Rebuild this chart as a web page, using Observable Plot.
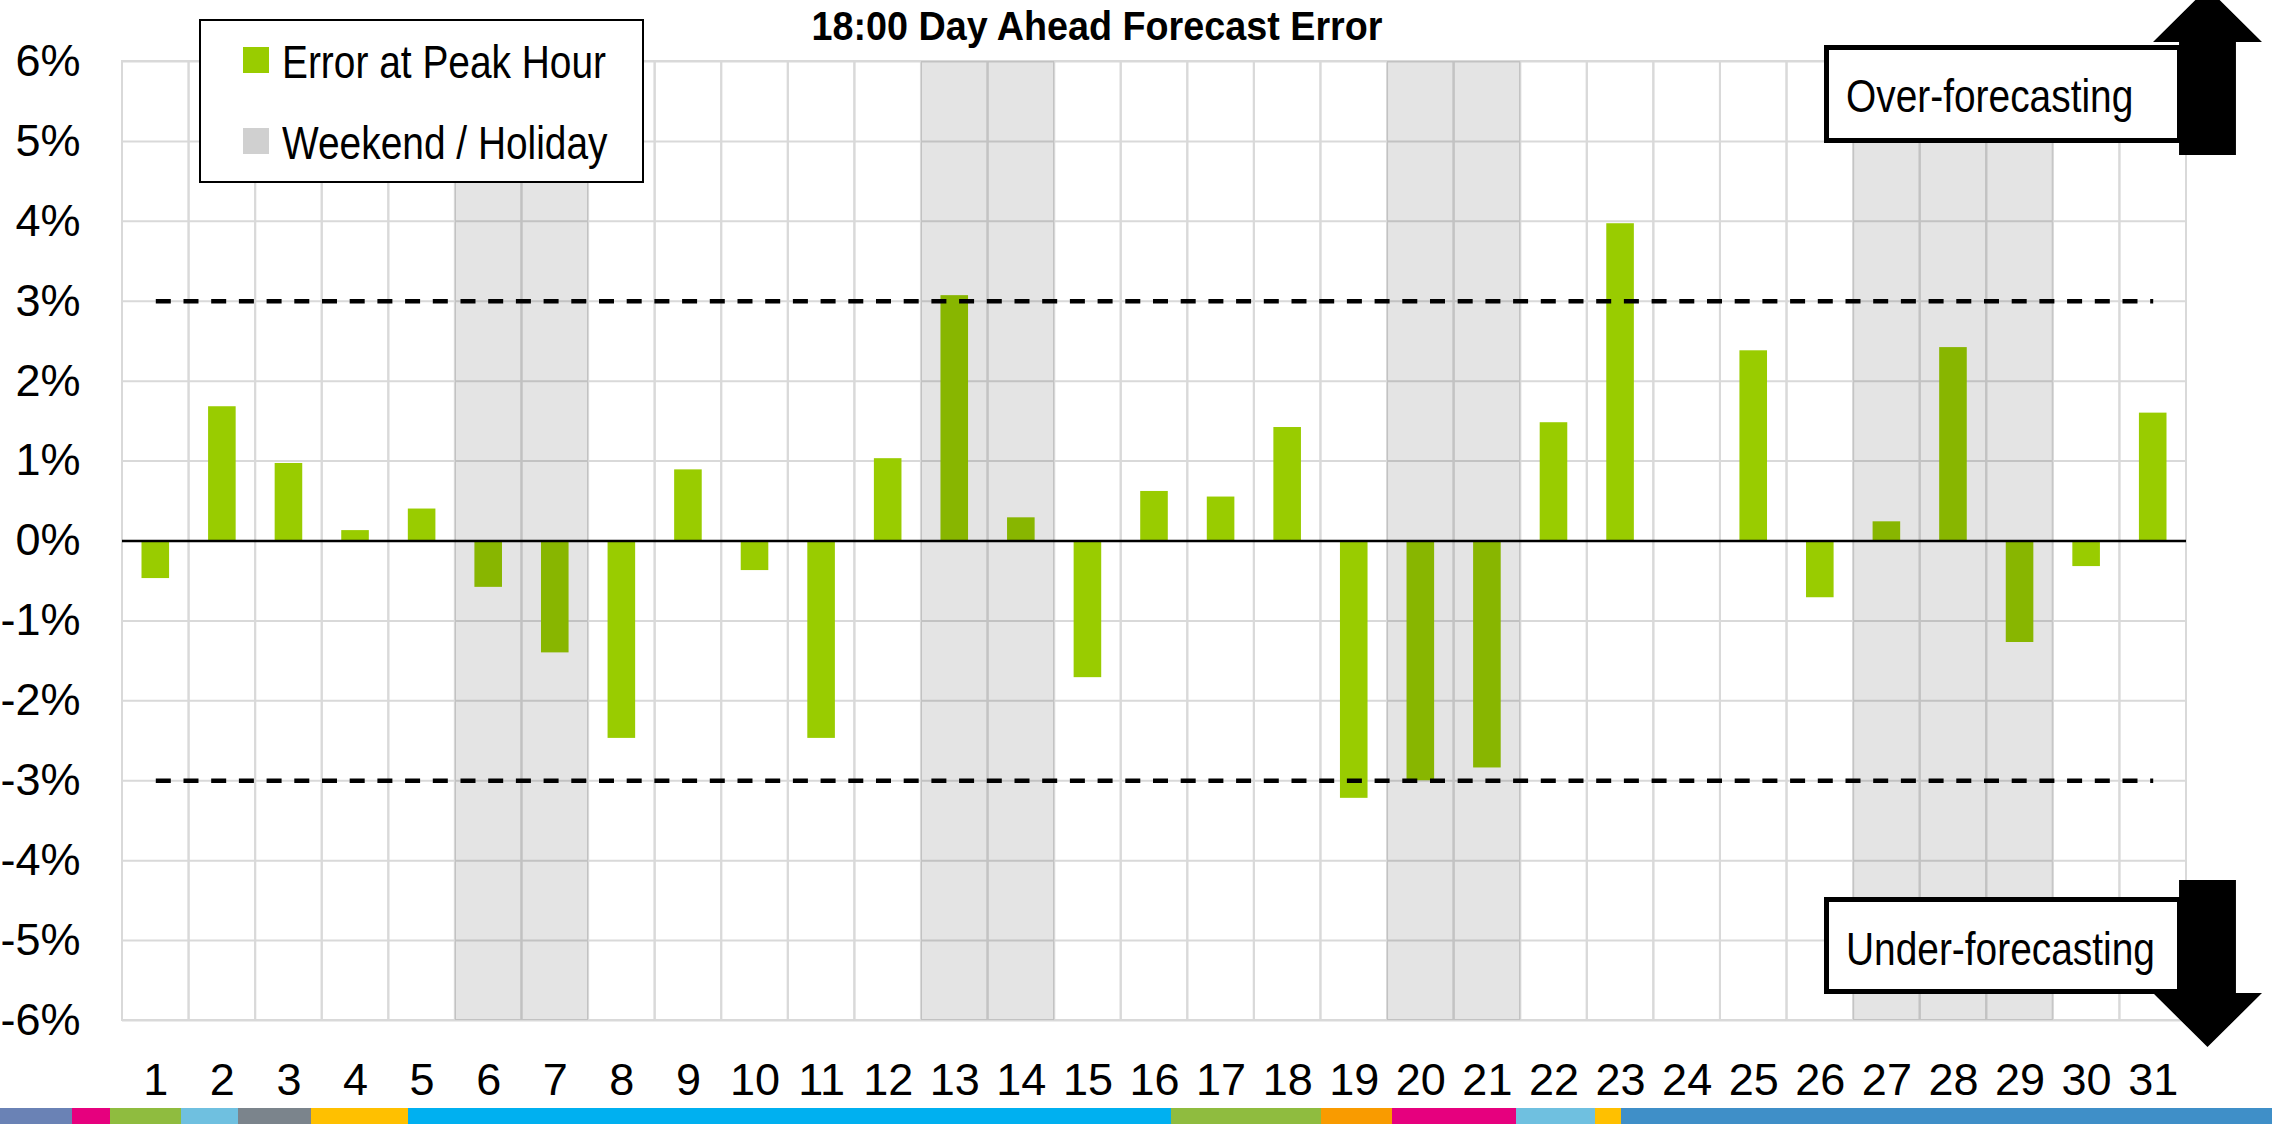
<!DOCTYPE html>
<html>
<head>
<meta charset="utf-8">
<script src="https://cdn.jsdelivr.net/npm/d3@7"></script>
<script src="https://cdn.jsdelivr.net/npm/@observablehq/plot@0.6"></script>
<style>
  html, body { margin: 0; padding: 0; background: #fff; }
  #wrap { position: relative; width: 2272px; height: 1124px; overflow: hidden;
    font-family: "Liberation Sans", Arial, sans-serif; }
  #chart { position: absolute; left: 0; top: 0; }
  .title { position: absolute; left: 1097px; top: 6px; transform: translateX(-50%) scaleX(0.92);
    font-size: 41px; line-height: 41px; font-weight: bold; white-space: nowrap; color: #000; }
  .legend { position: absolute; left: 199px; top: 19px; width: 445px; height: 164px; box-sizing: border-box;
    border: 2.5px solid #000; background: #fff; }
  .sw { position: absolute; width: 26px; height: 26px; }
  .lt { position: absolute; font-size: 46px; line-height: 46px; white-space: nowrap; color: #000;
    transform: scaleX(0.845); transform-origin: 0 50%; }
  .box { position: absolute; box-sizing: border-box; border: 5px solid #000; background: #fff; }
  .arrow { position: absolute; background: #000; }
  .strip { position: absolute; left: 0; top: 1108px; width: 2272px; height: 16px; display: flex; }
  .strip div { height: 16px; }
</style>
</head>
<body>
<div id="wrap">
  <div id="chart"></div>
</div>
<script>
// ---- data ----
const days = [1,2,3,4,5,6,7,8,9,10,11,12,13,14,15,16,17,18,19,20,21,22,23,24,25,26,27,28,29,30,31];
const errorAtPeak = [-0.47, 1.68, 0.97, 0.13, 0.40, -0.58, -1.40, -2.47, 0.89, -0.37, -2.47, 1.03, 3.07, 0.29, -1.71,
                     0.62, 0.55, 1.42, -3.22, -3.00, -2.84, 1.48, 3.97, 0, 2.38, -0.71, 0.24, 2.42, -1.27, -0.32, 1.60];
const weekendHoliday = [6, 7, 13, 14, 20, 21, 27, 28, 29];
const yTicks = [-6,-5,-4,-3,-2,-1,0,1,2,3,4,5,6];
const limits = [3, -3];
const chartTitle = "18:00 Day Ahead Forecast Error";
const legendLabels = ["Error at Peak Hour", "Weekend / Holiday"];
const annotations = ["Over-forecasting", "Under-forecasting"];

const data = days.map((d, i) => ({day: d, err: errorAtPeak[i]}));
const limitLines = limits.map(v => days.map(d => ({day: d, v})));

const chart = Plot.plot({
  width: 2272,
  height: 1108,
  marginTop: 61,
  marginBottom: 88,
  marginLeft: 122,
  marginRight: 86,
  style: {fontFamily: "'Liberation Sans', Arial, sans-serif", fontSize: "45px", color: "#000", background: "transparent", overflow: "visible"},
  x: {type: "band", domain: days, padding: 0, round: false, label: null},
  y: {domain: [-6, 6], label: null},
  marks: [
    Plot.gridY(yTicks, {stroke: "#d9d9d9", strokeOpacity: 1, strokeWidth: 2}),
    Plot.barY(days, {x: d => d, y1: () => -6, y2: () => 6, fill: "none", stroke: "#d9d9d9", strokeWidth: 2}),
    Plot.barY(data, {x: "day", y: "err", fill: "#99cc00", insetLeft: 19.5, insetRight: 19.5}),
    Plot.barY(weekendHoliday, {x: d => d, y1: () => -6, y2: () => 6, fill: "#000", fillOpacity: 0.105}),
    ...limitLines.map(l => Plot.lineY(l, {x: "day", y: "v", stroke: "#000", strokeWidth: 4.5, strokeDasharray: "15,12.7", strokeLinecap: "butt"})),
    Plot.ruleY([0], {stroke: "#000", strokeWidth: 2.5}),
    Plot.axisY(yTicks, {tickSize: 0, tickPadding: 42, tickFormat: d => `${d}%`, fontSize: 45, label: null, ariaLabel: "y-axis"}),
    Plot.axisX(days, {tickSize: 0, tickPadding: 43, fontSize: 45, label: null, ariaLabel: "x-axis"})
  ]
});
document.getElementById("chart").appendChild(chart);

// condense axis tick labels horizontally (narrow-font look)
d3.select(chart).selectAll("g[aria-label='y-axis'] text, g[aria-label='x-axis'] text").each(function() {
  const len = this.getComputedTextLength();
  this.setAttribute("textLength", len * 0.86);
  this.setAttribute("lengthAdjust", "spacingAndGlyphs");
});

// ---- overlays: title, legend, annotations ----
const wrap = document.getElementById("wrap");
function el(cls, style, text) {
  const e = document.createElement("div");
  e.className = cls;
  Object.assign(e.style, style);
  if (text != null) e.textContent = text;
  wrap.appendChild(e);
  return e;
}
el("title", {}, chartTitle);
el("legend", {});
el("sw", {left: "243px", top: "47px", background: "#99cc00"});
el("lt", {left: "282px", top: "38.6px"}, legendLabels[0]);
el("sw", {left: "243px", top: "128px", background: "#d0d0d0"});
el("lt", {left: "282px", top: "120.1px"}, legendLabels[1]);

el("box", {left: "1824px", top: "45px", width: "358px", height: "98px"});
el("lt", {left: "1846px", top: "73px"}, annotations[0]);
el("arrow", {left: "2153px", top: "-12px", width: "109px", height: "167px",
  clipPath: "polygon(23.9% 100%, 23.9% 32.3%, 0% 32.3%, 50% 0%, 100% 32.3%, 76.1% 32.3%, 76.1% 100%)"});

el("box", {left: "1824px", top: "897px", width: "358px", height: "97px"});
el("lt", {left: "1846px", top: "926px"}, annotations[1]);
el("arrow", {left: "2153px", top: "880px", width: "109px", height: "167px",
  clipPath: "polygon(23.9% 0%, 76.1% 0%, 76.1% 67.7%, 100% 67.7%, 50% 100%, 0% 67.7%, 23.9% 67.7%)"});
</script>
<div class="strip">
  <div style="width:72px;background:#6a82b5"></div>
  <div style="width:38px;background:#e6007e"></div>
  <div style="width:71px;background:#8fbc3f"></div>
  <div style="width:57px;background:#6fc0e0"></div>
  <div style="width:73px;background:#7b848c"></div>
  <div style="width:97px;background:#ffc000"></div>
  <div style="width:763px;background:#00b0f0"></div>
  <div style="width:150px;background:#8fbc3f"></div>
  <div style="width:71px;background:#f99b00"></div>
  <div style="width:124px;background:#e6007e"></div>
  <div style="width:79px;background:#6fc0e0"></div>
  <div style="width:26px;background:#ffc000"></div>
  <div style="width:651px;background:#3f8fc8"></div>
</div>
</body>
</html>
